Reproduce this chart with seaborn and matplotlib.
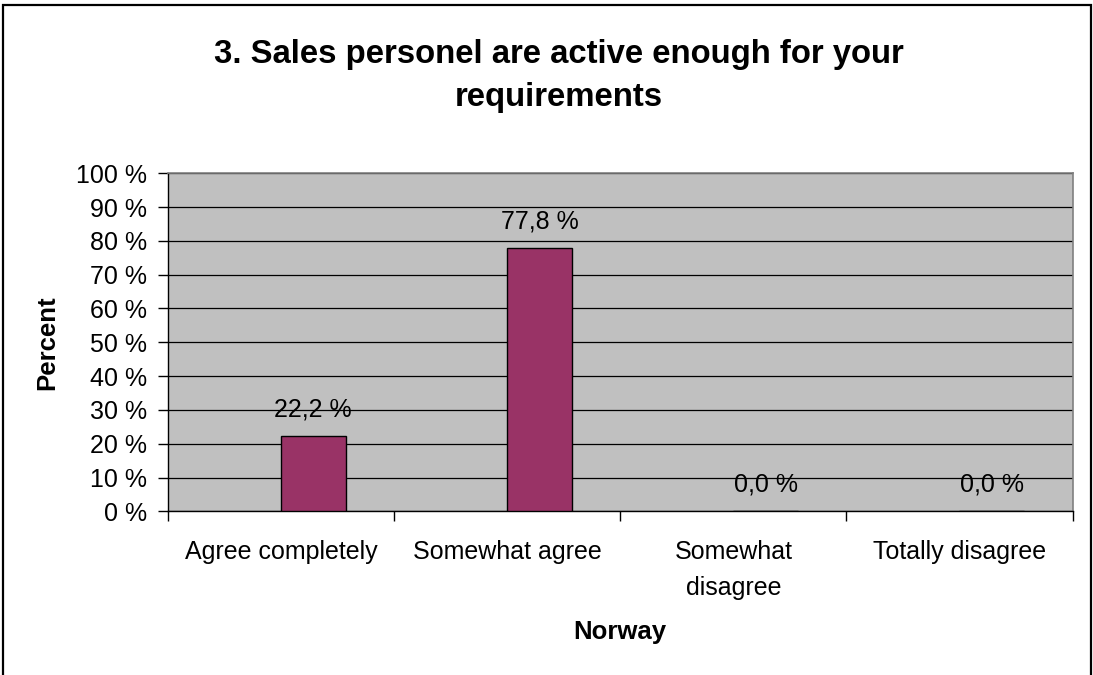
import matplotlib
matplotlib.use("Agg")
import matplotlib.pyplot as plt
import matplotlib.patches as mpatches
import numpy as np
import pandas as pd
import seaborn as sns

# Survey answers (percent of respondents)
categories = ["Agree completely", "Somewhat agree", "Somewhat\ndisagree", "Totally disagree"]
norway_values = [22.2, 77.8, 0.0, 0.0]
series_names = ["", "Norway"]          # empty first series keeps the Excel-style slot
y_ticks = [0, 10, 20, 30, 40, 50, 60, 70, 80, 90, 100]
y_tick_labels = [f"{v} %" for v in y_ticks]

title_text = "3. Sales personel are active enough for your\nrequirements"
x_title = "Norway"
y_title = "Percent"

df = pd.DataFrame({
    "category": categories * 2,
    "series": [series_names[0]] * len(categories) + [series_names[1]] * len(categories),
    "value": [np.nan] * len(categories) + norway_values,
})

sns.set_theme(style="white")
plt.rcParams["font.family"] = ["Liberation Sans", "DejaVu Sans"]

LABEL_SIZE = 18

fig = plt.figure(figsize=(10.93, 6.75), dpi=100)
ax = fig.add_axes([0.1537, 0.2425, 0.8276, 0.5008])

sns.barplot(
    data=df, x="category", y="value", hue="series",
    order=categories, hue_order=series_names,
    palette={series_names[0]: "#993366", series_names[1]: "#993366"},
    width=0.57, edgecolor="black", linewidth=1.0, saturation=1,
    legend=False, ax=ax, errorbar=None, zorder=3,
)

ax.set_facecolor("#c0c0c0")
ax.set_ylim(0, 100)
ax.set_xlim(-0.5, len(categories) - 0.5)
ax.set_yticks(y_ticks)
ax.set_yticklabels(y_tick_labels)
ax.yaxis.grid(True, color="black", linewidth=0.9, zorder=1)
ax.xaxis.grid(False)
ax.set_axisbelow(True)

# category labels at centres, tick marks on the boundaries
ax.set_xticks(range(len(categories)))
ax.set_xticklabels(categories, linespacing=1.6)
ax.set_xticks(np.arange(-0.5, len(categories)), minor=True)
ax.tick_params(axis="x", which="major", length=0, pad=21, labelsize=LABEL_SIZE, colors="black")
ax.tick_params(axis="x", which="minor", length=7, width=1, color="black", direction="out", bottom=True)
ax.tick_params(axis="y", length=7, width=1, color="black", direction="out", left=True,
               labelsize=LABEL_SIZE, pad=8, colors="black")

for side in ["top", "right"]:
    ax.spines[side].set_color("#808080")
    ax.spines[side].set_linewidth(1.2)
for side in ["left", "bottom"]:
    ax.spines[side].set_color("black")
    ax.spines[side].set_linewidth(1.0)

# value labels above the Norway bars
for container in ax.containers:
    heights = [p.get_height() for p in container.patches]
    if len(heights) and np.all(np.isfinite(heights)):
        labels = [f"{v:.1f} %".replace(".", ",") for v in norway_values]
        ax.bar_label(container, labels=labels, padding=10.5, fontsize=LABEL_SIZE, color="black")

ax.set_xlabel(x_title, fontsize=LABEL_SIZE + 0.5, fontweight="bold", color="black")
ax.set_ylabel(y_title, fontsize=LABEL_SIZE + 0.5, fontweight="bold", color="black")
ax.xaxis.set_label_coords(0.5, -0.322)
ax.yaxis.set_label_coords(-0.12, 0.5)

fig.text(0.511, 0.887, title_text, ha="center", va="center", fontsize=23.7,
         fontweight="bold", linespacing=1.5, color="black")

# outer chart frame
frame = mpatches.Rectangle((3 / 1093, -0.05), 1088 / 1093, 1.05 - 5 / 675,
                           transform=fig.transFigure, fill=False,
                           edgecolor="black", linewidth=1.6)
fig.patches.append(frame)

fig.savefig("out.png", dpi=100)
